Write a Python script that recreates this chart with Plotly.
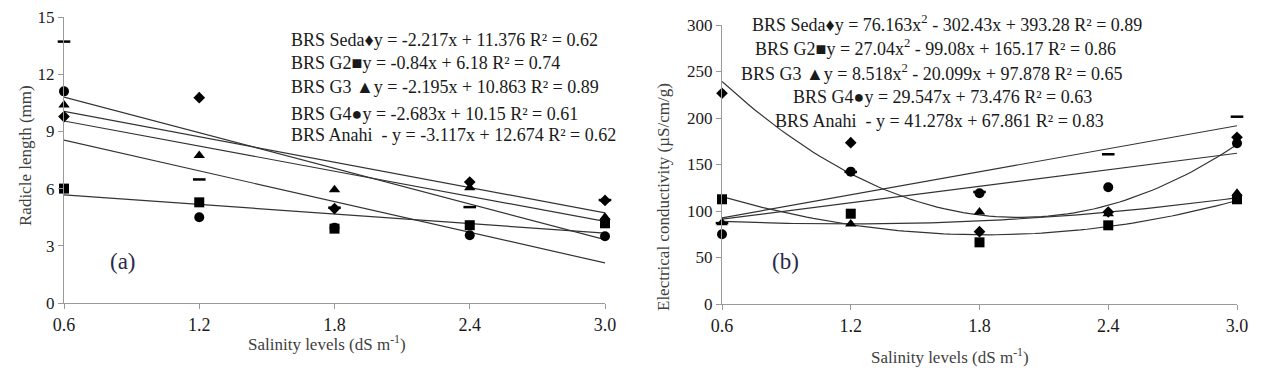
import numpy as np
import plotly.graph_objects as go

# ---------------- data ----------------
salinity = [0.6, 1.2, 1.8, 2.4, 3.0]
x_ticks = [0.6, 1.2, 1.8, 2.4, 3.0]
x_ticklabels = ["0.6", "1.2", "1.8", "2.4", "3.0"]

cultivars = ["BRS Seda", "BRS G2", "BRS G3", "BRS G4", "BRS Anahi"]

# Panel (a) radicle length (mm)
rad_seda = [9.78, 10.77, 4.95, 6.34, 5.38]
rad_g2 = [6.00, 5.28, 3.90, 4.08, 4.18]
rad_g3 = [10.39, 7.74, 5.94, 6.05, 4.50]
rad_g4 = [11.10, 4.50, 3.95, 3.55, 3.50]
rad_anahi = [13.71, 6.48, 5.00, 5.03, 5.40]

# linear trend coefficients (slope, intercept) as printed in panel (a)
rad_slope = [-2.217, -0.84, -2.195, -2.683, -3.117]
rad_intercept = [11.376, 6.18, 10.863, 10.15, 12.674]
rad_r2 = ["0.62", "0.74", "0.89", "0.61", "0.62"]

# Panel (b) electrical conductivity (uS/cm/g)
ec_seda = [226.6, 173.5, 77.8, 98.9, 179.2]
ec_g2 = [112.6, 97.1, 66.3, 84.6, 112.6]
ec_g3 = [87.4, 86.0, 98.9, 97.0, 119.0]
ec_g4 = [75.0, 142.3, 119.0, 125.5, 172.8]
ec_anahi = [87.0, 142.0, 120.5, 161.0, 201.4]

# polynomial trend coefficients [a2, a1, a0] as printed in panel (b)
ec_coef = [
    [76.163, -302.43, 393.28],
    [27.04, -99.08, 165.17],
    [8.518, -20.099, 97.878],
    [0.0, 29.547, 73.476],
    [0.0, 41.278, 67.861],
]
ec_r2 = ["0.89", "0.86", "0.65", "0.63", "0.83"]

rad_series = [rad_seda, rad_g2, rad_g3, rad_g4, rad_anahi]
ec_series = [ec_seda, ec_g2, ec_g3, ec_g4, ec_anahi]

# ---------------- styles ----------------
PAGE_W, PAGE_H = 1265, 375
OFF = 8  # default page body margin
W, H = PAGE_W - 2 * OFF, PAGE_H - 2 * OFF
FONT = "Liberation Serif"
symbols = ["diamond", "square", "triangle-up", "circle", "line-ew"]
sizes = [9, 10, 10, 10, 9]
glyphs = ["\u2666", "\u25a0", " \u25b2", "\u25cf", "  -"]
AXIS_COLOR = "#9a9a9a"
TREND_COLOR = "#333333"

fig = go.Figure()

xfine = np.linspace(0.6, 3.0, 80)

for i, name in enumerate(cultivars):
    yl = [rad_slope[i] * xv + rad_intercept[i] for xv in xfine]
    fig.add_trace(go.Scatter(x=xfine, y=yl, mode="lines", xaxis="x", yaxis="y",
                             line=dict(color=TREND_COLOR, width=1.2),
                             showlegend=False, hoverinfo="skip"))
    a2, a1, a0 = ec_coef[i]
    yq = [a2 * xv * xv + a1 * xv + a0 for xv in xfine]
    fig.add_trace(go.Scatter(x=xfine, y=yq, mode="lines", xaxis="x2", yaxis="y2",
                             line=dict(color=TREND_COLOR, width=1.2),
                             showlegend=False, hoverinfo="skip"))

for i, name in enumerate(cultivars):
    mk = dict(symbol=symbols[i], size=sizes[i], color="black",
              line=dict(color="black", width=2.5 if symbols[i] == "line-ew" else 0))
    fig.add_trace(go.Scatter(x=salinity, y=rad_series[i], mode="markers", name=name,
                             xaxis="x", yaxis="y", marker=mk, cliponaxis=False,
                             showlegend=False))
    fig.add_trace(go.Scatter(x=salinity, y=ec_series[i], mode="markers", name=name,
                             xaxis="x2", yaxis="y2", marker=mk, cliponaxis=False,
                             showlegend=False))

def px_x(p):
    return (p - OFF) / W

def px_y(p):
    return 1 - (p - OFF) / H

def axis_style(size):
    return dict(showgrid=False, zeroline=False, showline=True, linecolor=AXIS_COLOR,
                linewidth=1, ticks="outside", tickcolor=AXIS_COLOR, ticklen=5,
                automargin=False, ticklabeloverflow="allow",
                tickfont=dict(family=FONT, size=size, color="#1a1a1a"))

fig.update_layout(
    width=W, height=H, margin=dict(l=0, r=0, t=0, b=0, autoexpand=False),
    paper_bgcolor="white", plot_bgcolor="white", showlegend=False,
    font=dict(family=FONT),
    xaxis=dict(domain=[px_x(64), px_x(605)], range=[0.6, 3.0], tickvals=x_ticks,
               ticktext=x_ticklabels, anchor="y", **axis_style(18)),
    yaxis=dict(domain=[px_y(303), px_y(17)], range=[0, 15], tickvals=[0, 3, 6, 9, 12, 15],
               anchor="x", **axis_style(17)),
    xaxis2=dict(domain=[px_x(722), px_x(1237)], range=[0.6, 3.0], tickvals=x_ticks,
                ticktext=x_ticklabels, anchor="y2", **axis_style(18)),
    yaxis2=dict(domain=[px_y(304), px_y(25)], range=[0, 300],
                tickvals=[0, 50, 100, 150, 200, 250, 300], anchor="x2", **axis_style(17)),
)

ann = []
eq_font = dict(family=FONT, size=18, color="#1a1a1a")
# panel (a) equations
a_rows = [40, 63, 87, 114, 135]
for i, name in enumerate(cultivars):
    sign = "+" if rad_intercept[i] >= 0 else "-"
    body = f"y = {rad_slope[i]}x {sign} {abs(rad_intercept[i])} R\u00b2 = {rad_r2[i]}"
    txt = f"{name}{glyphs[i]}{body}" if name != "BRS Anahi" else f"{name}  - {body}"
    ann.append(dict(x=px_x(289), y=px_y(a_rows[i]), xref="paper", yref="paper",
                    xanchor="left", yanchor="middle", text=txt, showarrow=False,
                    font=eq_font))

# panel (b) equations
b_rows = [20, 44, 70, 97, 121]
b_centers = [947, 935, 932, 942, 939]
for i, name in enumerate(cultivars):
    a2, a1, a0 = ec_coef[i]
    if a2 != 0:
        s1 = "+" if a1 >= 0 else "-"
        body = f"y = {a2}x<sup>2</sup> {s1} {abs(a1)}x + {a0} R\u00b2 = {ec_r2[i]}"
    else:
        body = f"y = {a1}x + {a0} R\u00b2 = {ec_r2[i]}"
    txt = f"{name}{glyphs[i]}{body}" if name != "BRS Anahi" else f"{name}  - {body}"
    yy = b_rows[i] + (3 if a2 != 0 else 0)
    ann.append(dict(x=px_x(b_centers[i]), y=px_y(yy), xref="paper", yref="paper",
                    xanchor="center", yanchor="middle", text=txt, showarrow=False,
                    font=eq_font))

# panel letters
ann.append(dict(x=px_x(123), y=px_y(261), xref="paper", yref="paper", text="(a)",
                xanchor="center", yanchor="middle",
                showarrow=False, font=dict(family=FONT, size=23, color="#2a2a4a")))
ann.append(dict(x=px_x(785), y=px_y(261), xref="paper", yref="paper", text="(b)",
                xanchor="center", yanchor="middle",
                showarrow=False, font=dict(family=FONT, size=23, color="#2a2a4a")))

# axis titles
title_font = dict(family=FONT, size=17, color="#404040")
ann.append(dict(x=px_x(25), y=px_y(156), xref="paper", yref="paper", text="Radicle length (mm)",
                xanchor="center", yanchor="middle",
                textangle=-90, showarrow=False, font=title_font))
ann.append(dict(x=px_x(663), y=px_y(197), xref="paper", yref="paper",
                xanchor="center", yanchor="middle",
                text="Electrical conductivity (\u00b5S/cm/g)", textangle=-90,
                showarrow=False, font=title_font))
ann.append(dict(x=px_x(327), y=px_y(343), xref="paper", yref="paper",
                xanchor="center", yanchor="middle",
                text="Salinity levels (dS m<sup>-1</sup>)", showarrow=False, font=title_font))
ann.append(dict(x=px_x(950), y=px_y(356), xref="paper", yref="paper",
                xanchor="center", yanchor="middle",
                text="Salinity levels (dS m<sup>-1</sup>)", showarrow=False, font=title_font))

fig.update_layout(annotations=ann)
fig.write_html("out.html")
